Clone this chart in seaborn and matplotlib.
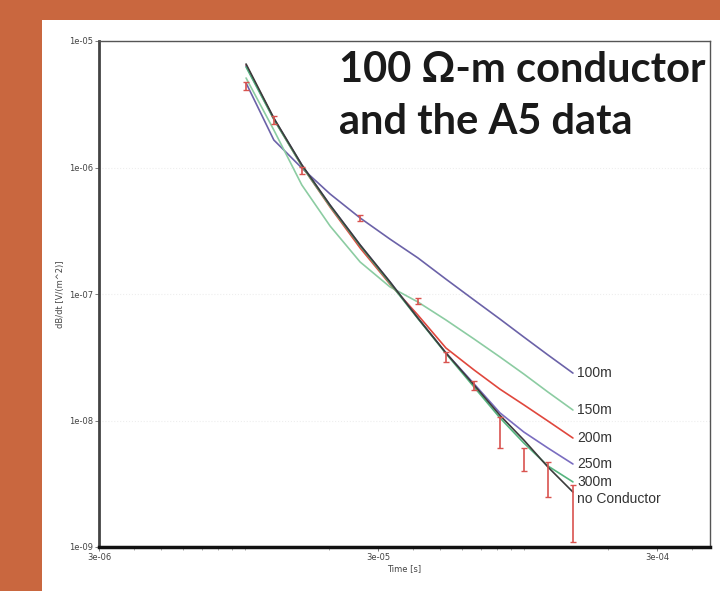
import numpy as np
import pandas as pd
import seaborn as sns
import matplotlib.pyplot as plt
from matplotlib.ticker import FixedLocator, FixedFormatter, NullFormatter

# time channels of the model curves [s]
model_time = [1.01e-5, 1.27e-5, 1.60e-5, 2.02e-5, 2.59e-5, 3.31e-5, 4.17e-5,
              5.26e-5, 6.63e-5, 8.21e-5, 1.00e-4, 1.22e-4, 1.50e-4]

# model responses dB/dt [V/(m^2)]
resp_100m = [4.66e-6, 1.65e-6, 9.91e-7, 6.18e-7, 3.99e-7, 2.72e-7, 1.93e-7,
             1.31e-7, 8.97e-8, 6.34e-8, 4.57e-8, 3.30e-8, 2.37e-8]
resp_150m = [5.10e-6, 1.98e-6, 7.28e-7, 3.45e-7, 1.79e-7, 1.14e-7, 8.65e-8,
             6.23e-8, 4.41e-8, 3.18e-8, 2.33e-8, 1.68e-8, 1.21e-8]
resp_200m = [6.46e-6, 2.42e-6, 1.03e-6, 4.87e-7, 2.31e-7, 1.20e-7, 6.82e-8,
             3.74e-8, 2.51e-8, 1.77e-8, 1.33e-8, 9.91e-9, 7.27e-9]
resp_250m = [6.34e-6, 2.44e-6, 1.05e-6, 5.05e-7, 2.44e-7, 1.25e-7, 6.46e-8,
             3.42e-8, 1.95e-8, 1.15e-8, 8.11e-9, 6.06e-9, 4.53e-9]
resp_300m = [6.23e-6, 2.40e-6, 1.03e-6, 4.95e-7, 2.40e-7, 1.22e-7, 6.40e-8,
             3.38e-8, 1.84e-8, 1.05e-8, 6.64e-9, 4.37e-9, 3.27e-9]
resp_none = [6.58e-6, 2.46e-6, 1.05e-6, 5.05e-7, 2.44e-7, 1.25e-7, 6.46e-8,
             3.42e-8, 1.91e-8, 1.10e-8, 7.01e-9, 4.29e-9, 2.72e-9]

model_names = ['100m', '150m', '200m', '250m', '300m', 'no Conductor']
model_colors = ['#6b62a8', '#8ccca2', '#e0473d', '#7a6dc0', '#55b47f', '#3c3c3c']

# A5 data: time channels and error bar limits
data_time = [1.01e-5, 1.27e-5, 1.60e-5, 2.59e-5, 4.17e-5, 5.26e-5, 6.63e-5,
             8.21e-5, 1.00e-4, 1.22e-4, 1.50e-4]
data_hi = [4.74e-6, 2.55e-6, 1.01e-6, 4.21e-7, 9.29e-8, 3.48e-8, 2.05e-8,
           1.07e-8, 6.06e-9, 4.70e-9, 3.09e-9]
data_lo = [4.10e-6, 2.21e-6, 8.89e-7, 3.78e-7, 8.34e-8, 2.90e-8, 1.74e-8,
           6.05e-9, 3.99e-9, 2.48e-9, 1.10e-9]

x_ticks = [3e-6, 3e-5, 3e-4]
x_tick_labels = ['3e-06', '3e-05', '3e-04']
y_ticks = [1e-9, 1e-8, 1e-7, 1e-6, 1e-5]
y_tick_labels = ['1e-09', '1e-08', '1e-07', '1e-06', '1e-05']

rows = []
for name, vals in zip(model_names, [resp_100m, resp_150m, resp_200m,
                                    resp_250m, resp_300m, resp_none]):
    for t, v in zip(model_time, vals):
        rows.append({'time': t, 'dbdt': v, 'model': name})
df = pd.DataFrame(rows)

sns.set_theme(style='white')
fig = plt.figure(figsize=(7.2, 5.91), dpi=100)
fig.patch.set_facecolor('#c9673f')

# white panel behind the plot
bg = fig.add_axes([42 / 720, 0, 1 - 42 / 720, 1 - 20 / 591])
bg.set_facecolor('white')
bg.set_xticks([])
bg.set_yticks([])
for s in bg.spines.values():
    s.set_visible(False)

ax = fig.add_axes([99 / 720, 1 - 547 / 591, 611 / 720, 506 / 591])
ax.set_facecolor('white')
ax.set_xscale('log')
ax.set_yscale('log')

sns.lineplot(data=df, x='time', y='dbdt', hue='model', hue_order=model_names,
             palette=dict(zip(model_names, model_colors)), linewidth=1.2,
             legend=False, ax=ax, estimator=None, sort=False)

d_lo = np.array(data_lo)
d_hi = np.array(data_hi)
d_mid = np.sqrt(d_lo * d_hi)
ax.errorbar(data_time, d_mid, yerr=[d_mid - d_lo, d_hi - d_mid], fmt='none',
            ecolor='#d9534f', elinewidth=1.2, capsize=2, capthick=1.0, zorder=5)

# end labels
offsets = [0, 0, 0, 0, 0, -5]
for name, col_vals, dy in zip(model_names, [resp_100m, resp_150m, resp_200m,
                                            resp_250m, resp_300m, resp_none], offsets):
    ax.annotate(name, (model_time[-1], col_vals[-1]), xytext=(3, dy),
                textcoords='offset points', va='center', ha='left',
                fontsize=10, family='Liberation Sans', color='#333333')

ax.set_xlim(3e-6, 4.65e-4)
ax.set_ylim(1e-9, 1e-5)
ax.xaxis.set_major_locator(FixedLocator(x_ticks))
ax.xaxis.set_major_formatter(FixedFormatter(x_tick_labels))
minor_x = [m * 10.0 ** e for e in (-6, -5, -4) for m in range(1, 10)]
ax.xaxis.set_minor_locator(FixedLocator(minor_x))
ax.xaxis.set_minor_formatter(NullFormatter())
ax.yaxis.set_major_locator(FixedLocator(y_ticks))
ax.yaxis.set_major_formatter(FixedFormatter(y_tick_labels))
ax.yaxis.set_minor_formatter(NullFormatter())
ax.yaxis.set_minor_locator(FixedLocator([]))

ax.tick_params(axis='both', which='major', labelsize=6, labelcolor='#444444',
               length=3, width=0.6, color='#666666', direction='out', pad=1,
               bottom=True, left=True)
ax.tick_params(axis='x', which='minor', length=2, width=0.5, color='#888888',
               direction='out', bottom=True)

ax.grid(True, which='major', axis='y', color='#eeeeee', linewidth=0.8, linestyle=':')

ax.spines['left'].set_linewidth(2.0)
ax.spines['left'].set_color('#444444')
ax.spines['bottom'].set_linewidth(2.5)
ax.spines['bottom'].set_color('#111111')
ax.spines['top'].set_linewidth(1.0)
ax.spines['top'].set_color('#555555')
ax.spines['right'].set_linewidth(1.0)
ax.spines['right'].set_color('#555555')

ax.set_xlabel('Time [s]', fontsize=6, color='#444444', labelpad=2)
ax.set_ylabel('dB/dt [V/(m^2)]', fontsize=6, color='#444444', labelpad=3)

fig.text(339 / 720, 1 - 96 / 591, '100 \u03a9-m conductor\nand the A5 data',
         fontsize=30, fontweight='bold', family=['Lato', 'DejaVu Sans'],
         color='#1a1a1a', ha='left', va='center', linespacing=1.42, zorder=10)

fig.savefig('out.png', dpi=100, facecolor=fig.get_facecolor())
